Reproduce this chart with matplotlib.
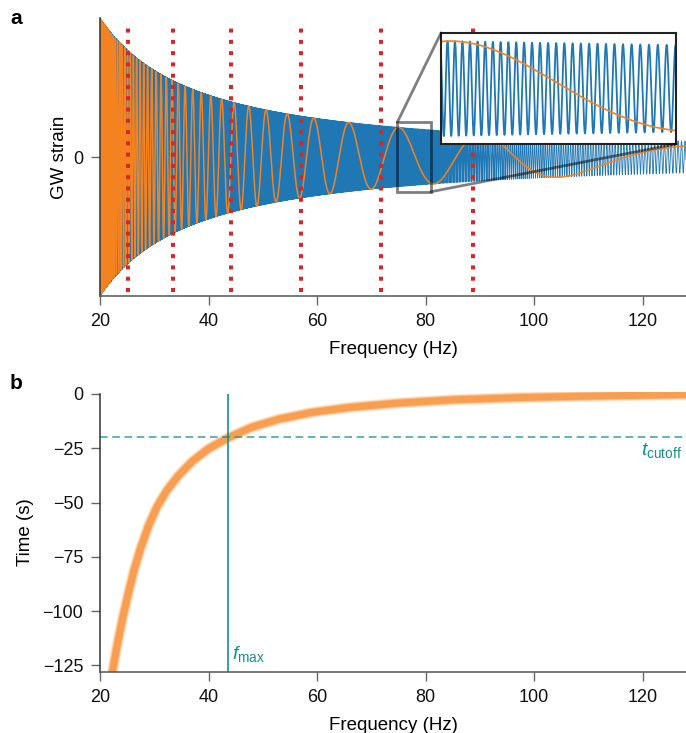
import numpy as np
import matplotlib
matplotlib.use('Agg')
import matplotlib.pyplot as plt
from matplotlib.patches import Rectangle, ConnectionPatch

plt.rcParams['font.family'] = ['Liberation Sans', 'DejaVu Sans']
plt.rcParams['mathtext.fontset'] = 'custom'
plt.rcParams['mathtext.rm'] = 'Liberation Sans'
plt.rcParams['mathtext.it'] = 'Liberation Sans:italic'
plt.rcParams['agg.path.chunksize'] = 20000

# values
freq_lo, freq_hi = 20, 128
marker_freqs = [25.1, 33.5, 44.2, 57.0, 71.8, 88.8]     # red dotted lines
zoom_freqs = (74.8, 81.0)                                 # zoomed window in panel a
zoom_amp = 0.25
f_max = 43.6
t_cutoff = -20.0

# time-frequency track of panel b
track_freq = [21.8, 22.5, 23.3, 24.2, 25.2, 26.3, 27.5, 28.9, 30.5, 32.3, 34.5, 37.0,
              40.0, 43.6, 48.0, 53.0, 59.0, 66.0, 75.0, 85.0, 97.0, 110.0, 128.0]
track_time = [-135, -125, -114, -103, -92, -81, -71, -61, -52, -44.5, -37.5, -31.0,
              -25.2, -20.2, -15.3, -11.6, -8.5, -6.2, -4.2, -2.7, -1.7, -1.0, -0.3]

# extrema of the slow (orange) wave in panel a
orange_peak_hz = [47.3, 50.7, 54.5, 59.4, 66.0, 75.0, 90.0]
orange_trough_hz = [49.0, 52.5, 56.8, 62.3, 70.0, 81.7, 105.0]
blue_time_offset = 0.4   # s, from the ~29 cycles seen in the inset

blue_c = '#1f77b4'
orange_c = '#f58220'
red_c = '#d62728'
teal = '#13918d'

# chirp: t(f) ~ -K f^(-8/3), amplitude ~ f^(-7/6)
K = -t_cutoff * f_max ** (8 / 3)
freq = np.linspace(freq_lo, freq_hi, 300000)
amp = (freq / freq_lo) ** (-7 / 6)
g = 0.6 * K * freq ** (-5 / 3)
blue = amp * np.cos(2 * np.pi * (g - blue_time_offset * freq))

ext_f = np.array(orange_peak_hz + orange_trough_hz)
ext_c = np.r_[-np.arange(len(orange_peak_hz)), -np.arange(len(orange_trough_hz)) - 0.5]
design = np.c_[0.6 * K * ext_f ** (-5 / 3), ext_f, np.ones_like(ext_f)]
coef = np.linalg.lstsq(design, ext_c, rcond=None)[0]
orange = amp * np.cos(2 * np.pi * (coef[0] * g + coef[1] * freq + coef[2]))

W, H = 686, 733
fig = plt.figure(figsize=(W / 100, H / 100), dpi=100)

# ---- panel a ----
ax1 = fig.add_axes([100 / W, 437 / H, 586 / W, 278 / H])
ax1.plot(freq, blue, color=blue_c, lw=0.6)
ax1.plot(freq, orange, color=orange_c, lw=1.1)
ax1.vlines(marker_freqs, -0.97, 0.97, colors=red_c, lw=2.9,
           linestyles=[(0, (1, 1.8))], zorder=4)
ax1.add_patch(Rectangle((zoom_freqs[0], -zoom_amp), zoom_freqs[1] - zoom_freqs[0],
                        2 * zoom_amp, fill=False, ec='k', alpha=0.5, lw=2, zorder=5))
ax1.set_xlim(freq_lo, freq_hi)
ax1.set_ylim(-1, 1)
ax1.set_xticks(range(20, 121, 20))
ax1.set_yticks([0])
ax1.set_xlabel('Frequency (Hz)', fontsize=13.5, labelpad=8)
ax1.set_ylabel('GW strain', fontsize=13.5, labelpad=4)

ax_in = fig.add_axes([441 / W, 589 / H, 235 / W, 111 / H])
sel = (freq > zoom_freqs[0] - 0.3) & (freq < zoom_freqs[1] + 0.3)
ax_in.plot(freq[sel], blue[sel], color=blue_c, lw=1.3)
ax_in.plot(freq[sel], orange[sel], color=orange_c, lw=1.2)
ax_in.set_xlim(*zoom_freqs)
ax_in.set_ylim(-zoom_amp, zoom_amp)
ax_in.set_xticks([])
ax_in.set_yticks([])
for s in ax_in.spines.values():
    s.set_linewidth(1.5)
    s.set_color('#222')

for xa, xb in [((zoom_freqs[0], zoom_amp), (0, 1)), ((zoom_freqs[1], -zoom_amp), (1, 0))]:
    con = ConnectionPatch(xyA=xa, coordsA=ax1.transData, xyB=xb, coordsB=ax_in.transAxes,
                          color='k', alpha=0.5, lw=2)
    fig.add_artist(con)

# ---- panel b ----
ax2 = fig.add_axes([100 / W, 61 / H, 586 / W, 280.2 / H])
for lw, a in [(8.0, 0.22), (6.5, 0.4), (5.0, 0.75)]:
    ax2.plot(track_freq, track_time, color='#f7923a', lw=lw, alpha=a,
             solid_capstyle='butt', solid_joinstyle='round')
ax2.axhline(t_cutoff, color=teal, lw=1.1, ls=(0, (5, 3)), alpha=0.85)
ax2.vlines(f_max, -128, 0, color=teal, lw=1.2)
ax2.text(44.4, -124.5, r'$f_{\mathrm{max}}$', color=teal, fontsize=14, ha='left', va='bottom')
ax2.text(127.3, -21.8, r'$t_{\mathrm{cutoff}}$', color=teal, fontsize=14, ha='right', va='top')
ax2.set_xlim(freq_lo, freq_hi)
ax2.set_ylim(-128, 1)
ax2.spines['left'].set_bounds(-128, 0)
ax2.set_xticks(range(20, 121, 20))
ax2.set_yticks([0, -25, -50, -75, -100, -125])
ax2.set_xlabel('Frequency (Hz)', fontsize=13.5, labelpad=8)
ax2.set_ylabel('Time (s)', fontsize=13.5, labelpad=6)

for ax in (ax1, ax2):
    ax.spines[['top', 'right']].set_visible(False)
    ax.spines['left'].set_color('#333')
    ax.spines['bottom'].set_color('#555')
    ax.spines['left'].set_linewidth(1.1)
    ax.spines['bottom'].set_linewidth(1.1)
    ax.tick_params(length=6.5, width=1, color='#666', labelsize=13, pad=5.5,
                   labelcolor='#111')

fig.text(10 / W, 1 - 19 / H, 'a', fontsize=15, weight='bold', va='center')
fig.text(10 / W, 1 - 383 / H, 'b', fontsize=15, weight='bold', va='center')

fig.savefig('out.png', dpi=100)
